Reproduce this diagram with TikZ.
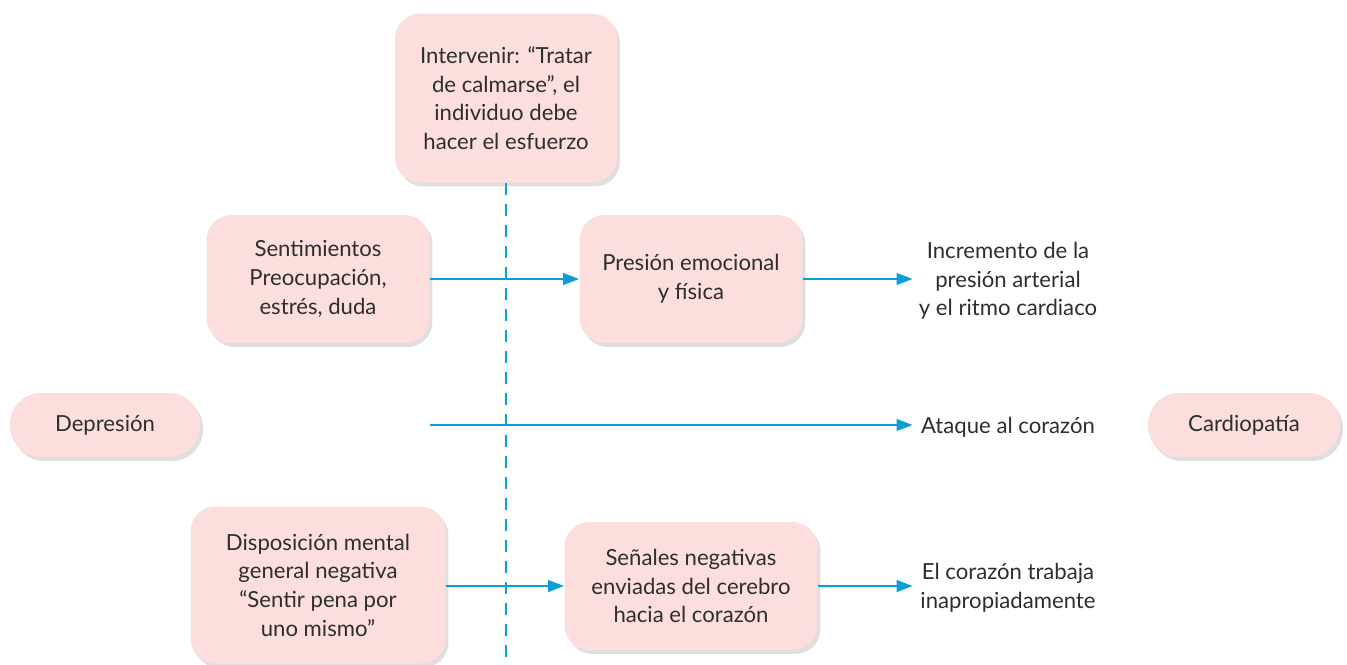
\documentclass[tikz,border=0pt]{standalone}
\usepackage{fontspec}
\setmainfont{Lato}
\usetikzlibrary{arrows.meta, positioning, shadows}

\definecolor{boxpink}{HTML}{FCDEDD}
\definecolor{lineblue}{HTML}{0E9ED6}
\definecolor{textgray}{HTML}{2E2E2E}

\begin{document}
\begin{tikzpicture}[
    x=0.02cm, y=-0.02cm,
    font=\fontsize{12.6}{16.3}\selectfont,
    text=textgray,
    box/.style={
        rectangle,
        minimum width=4.46cm,
        minimum height=2.56cm,
        text centered,
        align=center,
        fill=boxpink,
        rounded corners=0.5cm,
        drop shadow={shadow xshift=0.06cm, shadow yshift=-0.08cm, opacity=0.25}
    },
    pill/.style={
        box,
        minimum width=3.8cm,
        minimum height=1.28cm,
        rounded corners=0.62cm
    },
    result/.style={
        align=center,
        inner sep=0pt,
        minimum width=3.8cm
    },
    arrow/.style={draw=lineblue, line width=1.4pt, -{Triangle[length=0.32cm, width=0.23cm]}},
    divider/.style={draw=lineblue, line width=1.6pt, dash pattern=on 0.25cm off 0.17cm}
]

    \useasboundingbox (0,0) rectangle (1347,665);

    \node (intervenir) [box, minimum width=4.44cm, minimum height=3.38cm] at (506,98)
        {Intervenir: “Tratar\\de calmarse”, el\\individuo debe\\hacer el esfuerzo};

    \node (sentimientos) [box] at (318,279) {Sentimientos\\Preocupación,\\estrés, duda};
    \node (presion) [box] at (691,279) {Presión emocional\\y física};
    \node (incremento) [result] at (1008,281) {Incremento de la\\presión arterial\\y el ritmo cardiaco};

    \node (depresion) [pill] at (105,425) {Depresión};
    \coordinate (inicio) at (430,425);
    \node (ataque) [result] at (1008,427) {Ataque al corazón};
    \node (cardiopatia) [pill, minimum width=3.84cm] at (1244,425) {Cardiopatía};

    \node (disposicion) [box, minimum width=5.1cm, minimum height=3.14cm] at (318,585)
        {Disposición mental\\general negativa\\“Sentir pena por\\uno mismo”};
    \node (senales) [box, minimum width=5.06cm] at (691,586)
        {Señales negativas\\enviadas del cerebro\\hacia el corazón};
    \node (trabaja) [result] at (1008,588) {El corazón trabaja\\inapropiadamente};

    \coordinate (fondo) at (506,665);

    \draw [divider] (intervenir.south) -- (fondo);

    \draw [arrow] (sentimientos) -- (presion);
    \draw [arrow] (presion) -- (presion.east -| incremento.west);

    \draw [arrow] (inicio) -- (inicio -| ataque.west);

    \draw [arrow] (disposicion.east |- senales) -- (senales);
    \draw [arrow] (senales) -- (senales.east -| trabaja.west);

\end{tikzpicture}
\end{document}
